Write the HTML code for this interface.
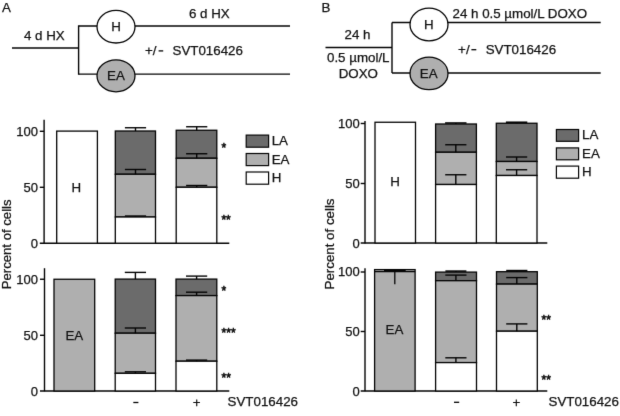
<!DOCTYPE html>
<html><head><meta charset="utf-8"><title>Figure</title>
<style>
html,body{margin:0;padding:0;background:#fff;}
body{width:620px;height:416px;overflow:hidden;font-family:"Liberation Sans",sans-serif;}
svg{display:block;}
svg text{font-family:"Liberation Sans",sans-serif;fill:#111;stroke:#111;stroke-width:0.25px;}
</style></head><body>
<svg width="620" height="416" viewBox="0 0 620 416">
<defs><filter id="bl" x="0" y="0" width="620" height="416" filterUnits="userSpaceOnUse" color-interpolation-filters="sRGB"><feConvolveMatrix order="3" kernelMatrix="0.0064 0.0672 0.0064 0.0672 0.7056 0.0672 0.0064 0.0672 0.0064" edgeMode="duplicate" preserveAlpha="false"/></filter></defs>
<g filter="url(#bl)">
<rect x="-2" y="-2" width="624" height="420" fill="#ffffff"/>
<text x="2" y="12" text-anchor="start" font-size="13.33" >A</text>
<line x1="12" y1="48" x2="78.5" y2="48" stroke="#050505" stroke-width="1.4"/>
<line x1="78.6" y1="25.4" x2="78.6" y2="74.7" stroke="#050505" stroke-width="1.4"/>
<line x1="78.5" y1="26" x2="290" y2="26" stroke="#050505" stroke-width="1.4"/>
<line x1="78.5" y1="74.1" x2="290" y2="74.1" stroke="#050505" stroke-width="1.4"/>
<ellipse cx="116" cy="26.7" rx="19" ry="16.3" fill="#fff" stroke="#050505" stroke-width="1.3"/>
<ellipse cx="116" cy="75.8" rx="19" ry="16.0" fill="#afafaf" stroke="#050505" stroke-width="1.3"/>
<text x="116" y="31" text-anchor="middle" font-size="13.33" >H</text>
<text x="116" y="80" text-anchor="middle" font-size="13.33" >EA</text>
<text x="24" y="40" text-anchor="start" font-size="13.33" >4 d HX</text>
<text x="189" y="18" text-anchor="start" font-size="13.33" >6 d HX</text>
<text x="145" y="55" text-anchor="start" font-size="13.33" >+/</text>
<line x1="158.6" y1="50.9" x2="163.2" y2="50.9" stroke="#050505" stroke-width="1.3"/>
<text x="172.5" y="55" text-anchor="start" font-size="13.33" >SVT016426</text>
<text x="321.6" y="12" text-anchor="start" font-size="13.33" >B</text>
<line x1="325.5" y1="47.5" x2="392" y2="47.5" stroke="#050505" stroke-width="1.4"/>
<line x1="392" y1="22.5" x2="392" y2="73" stroke="#050505" stroke-width="1.4"/>
<line x1="392" y1="22.5" x2="600.7" y2="22.5" stroke="#050505" stroke-width="1.4"/>
<line x1="392" y1="73" x2="600.7" y2="73" stroke="#050505" stroke-width="1.4"/>
<ellipse cx="429" cy="24.5" rx="19" ry="16.3" fill="#fff" stroke="#050505" stroke-width="1.3"/>
<ellipse cx="429" cy="73.4" rx="19" ry="16.3" fill="#afafaf" stroke="#050505" stroke-width="1.3"/>
<text x="428.7" y="29" text-anchor="middle" font-size="13.33" >H</text>
<text x="428.7" y="78" text-anchor="middle" font-size="13.33" >EA</text>
<text x="344.5" y="39" text-anchor="start" font-size="13.33" >24 h</text>
<text x="327" y="61.7" text-anchor="start" font-size="13.33" >0.5 µmol/L</text>
<text x="338.7" y="77.5" text-anchor="start" font-size="13.33" >DOXO</text>
<text x="452.5" y="18" text-anchor="start" font-size="13.33" >24 h 0.5 µmol/L DOXO</text>
<text x="458.1" y="53.7" text-anchor="start" font-size="13.33" >+/</text>
<line x1="471.4" y1="49.7" x2="476.3" y2="49.7" stroke="#050505" stroke-width="1.3"/>
<text x="485.7" y="53.7" text-anchor="start" font-size="13.33" >SVT016426</text>
<line x1="44.1" y1="119.8" x2="44.1" y2="243.6" stroke="#050505" stroke-width="1.4"/>
<line x1="39.8" y1="243.2" x2="229.3" y2="243.2" stroke="#050505" stroke-width="1.4"/>
<line x1="39.8" y1="131.3" x2="44.1" y2="131.3" stroke="#050505" stroke-width="1.4"/>
<line x1="39.8" y1="187.3" x2="44.1" y2="187.3" stroke="#050505" stroke-width="1.4"/>
<text x="38" y="135.8" text-anchor="end" font-size="13" >100</text>
<text x="38" y="192" text-anchor="end" font-size="13" >50</text>
<text x="38" y="248" text-anchor="end" font-size="13" >0</text>
<rect x="56.7" y="131.1" width="40.7" height="112.1" fill="#ffffff" stroke="#050505" stroke-width="1.3"/>
<text x="76.2" y="192.2" text-anchor="middle" font-size="13.33" >H</text>
<rect x="115.3" y="131" width="40.2" height="43.25" fill="#6b6b6b" stroke="#050505" stroke-width="1.3"/>
<rect x="115.3" y="174.25" width="40.2" height="42.75" fill="#afafaf" stroke="#050505" stroke-width="1.3"/>
<rect x="115.3" y="217" width="40.2" height="26.2" fill="#ffffff" stroke="#050505" stroke-width="1.3"/>
<line x1="124.9" y1="127.75" x2="146.1" y2="127.75" stroke="#050505" stroke-width="1.4"/>
<line x1="135.5" y1="127.75" x2="135.5" y2="131" stroke="#050505" stroke-width="1.4"/>
<line x1="124.9" y1="169.5" x2="146.1" y2="169.5" stroke="#050505" stroke-width="1.4"/>
<line x1="135.5" y1="169.5" x2="135.5" y2="174.25" stroke="#050505" stroke-width="1.4"/>
<line x1="124.9" y1="216" x2="146.1" y2="216" stroke="#050505" stroke-width="1.4"/>
<line x1="135.5" y1="216" x2="135.5" y2="217" stroke="#050505" stroke-width="1.4"/>
<rect x="176.2" y="130.25" width="40.6" height="28.0" fill="#6b6b6b" stroke="#050505" stroke-width="1.3"/>
<rect x="176.2" y="158.25" width="40.6" height="29.0" fill="#afafaf" stroke="#050505" stroke-width="1.3"/>
<rect x="176.2" y="187.25" width="40.6" height="55.95" fill="#ffffff" stroke="#050505" stroke-width="1.3"/>
<line x1="186.1" y1="126.75" x2="207.29999999999998" y2="126.75" stroke="#050505" stroke-width="1.4"/>
<line x1="196.7" y1="126.75" x2="196.7" y2="130.25" stroke="#050505" stroke-width="1.4"/>
<line x1="186.1" y1="153.75" x2="207.29999999999998" y2="153.75" stroke="#050505" stroke-width="1.4"/>
<line x1="196.7" y1="153.75" x2="196.7" y2="158.25" stroke="#050505" stroke-width="1.4"/>
<line x1="186.1" y1="185.5" x2="207.29999999999998" y2="185.5" stroke="#050505" stroke-width="1.4"/>
<line x1="196.7" y1="185.5" x2="196.7" y2="187.25" stroke="#050505" stroke-width="1.4"/>
<text x="221.4" y="152.3" text-anchor="start" font-size="12" style="stroke-width:0.55px">*</text>
<text x="221.4" y="223.9" text-anchor="start" font-size="12" style="stroke-width:0.55px">**</text>
<rect x="246.2" y="135.1" width="22.4" height="12.1" fill="#6b6b6b" stroke="#050505" stroke-width="1.2"/>
<rect x="246.2" y="153.5" width="22.4" height="12.1" fill="#afafaf" stroke="#050505" stroke-width="1.2"/>
<rect x="246.2" y="172" width="22.4" height="12.2" fill="#ffffff" stroke="#050505" stroke-width="1.2"/>
<text x="271.7" y="145.1" text-anchor="start" font-size="13.33" >LA</text>
<text x="271.7" y="163.6" text-anchor="start" font-size="13.33" >EA</text>
<text x="271.7" y="181.9" text-anchor="start" font-size="13.33" >H</text>
<line x1="44.5" y1="268.2" x2="44.5" y2="391.3" stroke="#050505" stroke-width="1.4"/>
<line x1="40" y1="391" x2="229.3" y2="391" stroke="#050505" stroke-width="1.4"/>
<line x1="40" y1="279.25" x2="44.5" y2="279.25" stroke="#050505" stroke-width="1.4"/>
<line x1="40" y1="335.3" x2="44.5" y2="335.3" stroke="#050505" stroke-width="1.4"/>
<text x="38" y="284" text-anchor="end" font-size="13" >100</text>
<text x="38" y="340" text-anchor="end" font-size="13" >50</text>
<text x="38" y="395.7" text-anchor="end" font-size="13" >0</text>
<rect x="54" y="279.25" width="40.7" height="111.75" fill="#afafaf" stroke="#050505" stroke-width="1.3"/>
<text x="74.3" y="340" text-anchor="middle" font-size="13.33" >EA</text>
<rect x="115.2" y="279.1" width="40.3" height="54.1" fill="#6b6b6b" stroke="#050505" stroke-width="1.3"/>
<rect x="115.2" y="333.2" width="40.3" height="40.1" fill="#afafaf" stroke="#050505" stroke-width="1.3"/>
<rect x="115.2" y="373.3" width="40.3" height="17.7" fill="#ffffff" stroke="#050505" stroke-width="1.3"/>
<line x1="124.80000000000001" y1="272.4" x2="146.0" y2="272.4" stroke="#050505" stroke-width="1.4"/>
<line x1="135.4" y1="272.4" x2="135.4" y2="279.1" stroke="#050505" stroke-width="1.4"/>
<line x1="124.80000000000001" y1="328" x2="146.0" y2="328" stroke="#050505" stroke-width="1.4"/>
<line x1="135.4" y1="328" x2="135.4" y2="333.2" stroke="#050505" stroke-width="1.4"/>
<line x1="124.80000000000001" y1="371.8" x2="146.0" y2="371.8" stroke="#050505" stroke-width="1.4"/>
<line x1="135.4" y1="371.8" x2="135.4" y2="373.3" stroke="#050505" stroke-width="1.4"/>
<rect x="176.0" y="279.1" width="40.8" height="16.5" fill="#6b6b6b" stroke="#050505" stroke-width="1.3"/>
<rect x="176.0" y="295.6" width="40.8" height="65.6" fill="#afafaf" stroke="#050505" stroke-width="1.3"/>
<rect x="176.0" y="361.2" width="40.8" height="29.8" fill="#ffffff" stroke="#050505" stroke-width="1.3"/>
<line x1="186.0" y1="276.1" x2="207.2" y2="276.1" stroke="#050505" stroke-width="1.4"/>
<line x1="196.6" y1="276.1" x2="196.6" y2="279.1" stroke="#050505" stroke-width="1.4"/>
<line x1="186.0" y1="292.2" x2="207.2" y2="292.2" stroke="#050505" stroke-width="1.4"/>
<line x1="196.6" y1="292.2" x2="196.6" y2="295.6" stroke="#050505" stroke-width="1.4"/>
<line x1="186.0" y1="360.1" x2="207.2" y2="360.1" stroke="#050505" stroke-width="1.4"/>
<line x1="196.6" y1="360.1" x2="196.6" y2="361.2" stroke="#050505" stroke-width="1.4"/>
<text x="221.4" y="295.2" text-anchor="start" font-size="12" style="stroke-width:0.55px">*</text>
<text x="221.6" y="336.7" text-anchor="start" font-size="12" style="stroke-width:0.55px">***</text>
<text x="221.6" y="382.2" text-anchor="start" font-size="12" style="stroke-width:0.55px">**</text>
<line x1="133.3" y1="402.5" x2="138.4" y2="402.5" stroke="#050505" stroke-width="1.3"/>
<text x="196.7" y="407" text-anchor="middle" font-size="13.33" >+</text>
<text x="227.6" y="405.5" text-anchor="start" font-size="13.33" >SVT016426</text>
<text transform="translate(11.4,289.3) rotate(-90)" font-size="13.15">Percent of cells</text>
<line x1="365" y1="121" x2="365" y2="243.5" stroke="#050505" stroke-width="1.4"/>
<line x1="360.7" y1="243" x2="547.3" y2="243" stroke="#050505" stroke-width="1.4"/>
<line x1="360.7" y1="123.5" x2="365" y2="123.5" stroke="#050505" stroke-width="1.4"/>
<line x1="360.7" y1="183.5" x2="365" y2="183.5" stroke="#050505" stroke-width="1.4"/>
<text x="359.8" y="128.2" text-anchor="end" font-size="13" >100</text>
<text x="359.8" y="187.8" text-anchor="end" font-size="13" >50</text>
<text x="359.8" y="247.5" text-anchor="end" font-size="13" >0</text>
<rect x="375" y="122.25" width="40.5" height="120.75" fill="#ffffff" stroke="#050505" stroke-width="1.3"/>
<text x="395" y="186" text-anchor="middle" font-size="13.33" >H</text>
<rect x="435.6" y="124" width="40.8" height="28.25" fill="#6b6b6b" stroke="#050505" stroke-width="1.3"/>
<rect x="435.6" y="152.25" width="40.8" height="32.25" fill="#afafaf" stroke="#050505" stroke-width="1.3"/>
<rect x="435.6" y="184.5" width="40.8" height="58.5" fill="#ffffff" stroke="#050505" stroke-width="1.3"/>
<line x1="445.1" y1="123" x2="466.5" y2="123" stroke="#050505" stroke-width="1.6"/>
<line x1="455.8" y1="123" x2="455.8" y2="124" stroke="#050505" stroke-width="1.6"/>
<line x1="445.2" y1="144.75" x2="466.40000000000003" y2="144.75" stroke="#050505" stroke-width="1.4"/>
<line x1="455.8" y1="144.75" x2="455.8" y2="152.25" stroke="#050505" stroke-width="1.4"/>
<line x1="445.2" y1="174.75" x2="466.40000000000003" y2="174.75" stroke="#050505" stroke-width="1.4"/>
<line x1="455.8" y1="174.75" x2="455.8" y2="184.5" stroke="#050505" stroke-width="1.4"/>
<rect x="496.3" y="123.25" width="40.7" height="38.25" fill="#6b6b6b" stroke="#050505" stroke-width="1.3"/>
<rect x="496.3" y="161.5" width="40.7" height="14.0" fill="#afafaf" stroke="#050505" stroke-width="1.3"/>
<rect x="496.3" y="175.5" width="40.7" height="67.5" fill="#ffffff" stroke="#050505" stroke-width="1.3"/>
<line x1="505.90000000000003" y1="122.25" x2="527.3000000000001" y2="122.25" stroke="#050505" stroke-width="1.6"/>
<line x1="516.6" y1="122.25" x2="516.6" y2="123.25" stroke="#050505" stroke-width="1.6"/>
<line x1="506.0" y1="157" x2="527.2" y2="157" stroke="#050505" stroke-width="1.4"/>
<line x1="516.6" y1="157" x2="516.6" y2="161.5" stroke="#050505" stroke-width="1.4"/>
<line x1="506.0" y1="169.75" x2="527.2" y2="169.75" stroke="#050505" stroke-width="1.4"/>
<line x1="516.6" y1="169.75" x2="516.6" y2="175.5" stroke="#050505" stroke-width="1.4"/>
<rect x="556.4" y="129.5" width="22.2" height="11.8" fill="#6b6b6b" stroke="#050505" stroke-width="1.2"/>
<rect x="556.4" y="147.9" width="22.2" height="11.9" fill="#afafaf" stroke="#050505" stroke-width="1.2"/>
<rect x="556.4" y="166.1" width="22.2" height="12.1" fill="#ffffff" stroke="#050505" stroke-width="1.2"/>
<text x="582" y="139.3" text-anchor="start" font-size="13.33" >LA</text>
<text x="582" y="157.8" text-anchor="start" font-size="13.33" >EA</text>
<text x="582" y="176.3" text-anchor="start" font-size="13.33" >H</text>
<line x1="365" y1="268.2" x2="365" y2="391.3" stroke="#050505" stroke-width="1.4"/>
<line x1="360.7" y1="391" x2="547.3" y2="391" stroke="#050505" stroke-width="1.4"/>
<line x1="360.7" y1="272" x2="365" y2="272" stroke="#050505" stroke-width="1.4"/>
<line x1="360.7" y1="331.5" x2="365" y2="331.5" stroke="#050505" stroke-width="1.4"/>
<text x="359.8" y="275.8" text-anchor="end" font-size="13" >100</text>
<text x="359.8" y="335.5" text-anchor="end" font-size="13" >50</text>
<text x="359.8" y="395.5" text-anchor="end" font-size="13" >0</text>
<rect x="374.6" y="269.6" width="40.5" height="121.4" fill="#afafaf" stroke="#050505" stroke-width="1.3"/>
<line x1="374.6" y1="271.7" x2="415.1" y2="271.7" stroke="#050505" stroke-width="1.2"/>
<line x1="384" y1="270.6" x2="405.7" y2="270.6" stroke="#050505" stroke-width="2.0"/>
<line x1="394.8" y1="270.8" x2="394.8" y2="284.3" stroke="#050505" stroke-width="1.3"/>
<text x="394.5" y="333.5" text-anchor="middle" font-size="13.33" >EA</text>
<rect x="435.6" y="272.1" width="40.9" height="8.6" fill="#6b6b6b" stroke="#050505" stroke-width="1.3"/>
<rect x="435.6" y="280.7" width="40.9" height="81.9" fill="#afafaf" stroke="#050505" stroke-width="1.3"/>
<rect x="435.6" y="362.6" width="40.9" height="28.4" fill="#ffffff" stroke="#050505" stroke-width="1.3"/>
<line x1="445.4" y1="271.1" x2="466.4" y2="271.1" stroke="#050505" stroke-width="1.6"/>
<line x1="455.9" y1="271.1" x2="455.9" y2="272.1" stroke="#050505" stroke-width="1.6"/>
<line x1="445.29999999999995" y1="275.1" x2="466.5" y2="275.1" stroke="#050505" stroke-width="1.4"/>
<line x1="455.9" y1="275.1" x2="455.9" y2="280.7" stroke="#050505" stroke-width="1.4"/>
<line x1="445.29999999999995" y1="357.8" x2="466.5" y2="357.8" stroke="#050505" stroke-width="1.4"/>
<line x1="455.9" y1="357.8" x2="455.9" y2="362.6" stroke="#050505" stroke-width="1.4"/>
<rect x="496.5" y="271.7" width="40.8" height="12.4" fill="#6b6b6b" stroke="#050505" stroke-width="1.3"/>
<rect x="496.5" y="284.1" width="40.8" height="47.1" fill="#afafaf" stroke="#050505" stroke-width="1.3"/>
<rect x="496.5" y="331.2" width="40.8" height="59.8" fill="#ffffff" stroke="#050505" stroke-width="1.3"/>
<line x1="506.19999999999993" y1="270.6" x2="527.4" y2="270.6" stroke="#050505" stroke-width="1.6"/>
<line x1="516.8" y1="270.6" x2="516.8" y2="271.7" stroke="#050505" stroke-width="1.6"/>
<line x1="506.19999999999993" y1="277.6" x2="527.4" y2="277.6" stroke="#050505" stroke-width="1.4"/>
<line x1="516.8" y1="277.6" x2="516.8" y2="284.1" stroke="#050505" stroke-width="1.4"/>
<line x1="506.19999999999993" y1="323.9" x2="527.4" y2="323.9" stroke="#050505" stroke-width="1.4"/>
<line x1="516.8" y1="323.9" x2="516.8" y2="331.2" stroke="#050505" stroke-width="1.4"/>
<text x="541.5" y="324.1" text-anchor="start" font-size="12" style="stroke-width:0.55px">**</text>
<text x="541.5" y="384.3" text-anchor="start" font-size="12" style="stroke-width:0.55px">**</text>
<line x1="454.0" y1="402.3" x2="459.2" y2="402.3" stroke="#050505" stroke-width="1.3"/>
<text x="516.5" y="407.2" text-anchor="middle" font-size="13.33" >+</text>
<text x="548.5" y="405.7" text-anchor="start" font-size="13.33" >SVT016426</text>
<text transform="translate(333.9,289.4) rotate(-90)" font-size="13.3">Percent of cells</text>
</g>
</svg>
</body></html>
